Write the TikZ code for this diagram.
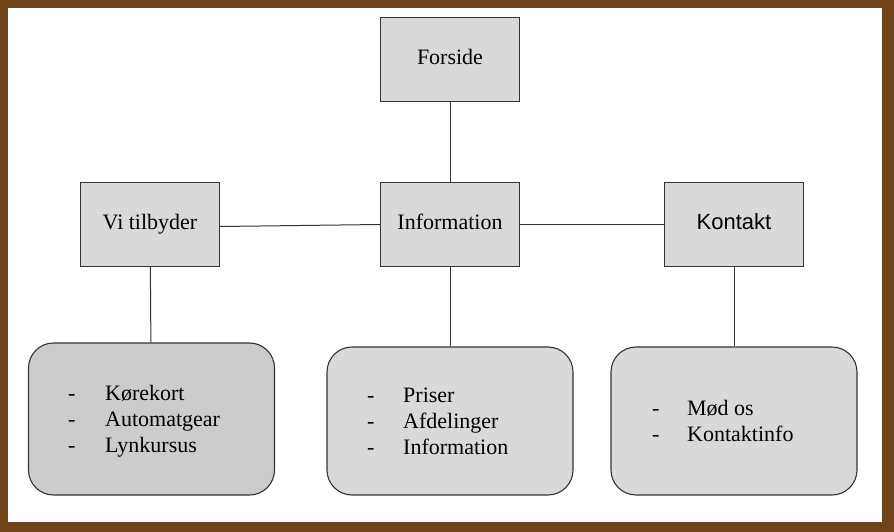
\documentclass[tikz,border=0pt]{standalone}
\usepackage{fontspec}
\setmainfont{Liberation Serif}
\newfontfamily\arialfont{Liberation Sans}
\definecolor{framebrown}{HTML}{6F4318}
\definecolor{boxgray}{HTML}{D9D9D9}
\definecolor{darkgray}{HTML}{CCCCCC}
\definecolor{edgegray}{HTML}{333333}
\begin{document}
\begin{tikzpicture}[x=1pt, y=-1pt,
  page/.style={inner sep=0pt, font=\fontsize{22}{26}\selectfont},
  box/.style={page, draw=edgegray, fill=boxgray, line width=1.1pt,
    minimum width=139pt, minimum height=84pt, text height=15pt, text depth=5pt},
  roundbox/.style={draw=edgegray, fill=boxgray, line width=1.1pt,
    rounded corners=25pt, minimum width=246pt, inner sep=0pt},
  items/.style={page, anchor=west},
  link/.style={draw=edgegray, line width=1pt}]
  % frame
  \fill[framebrown] (0,0) rectangle (894,532);
  \fill[white] (8,8) rectangle (882,522);

  % top level
  \node[box] (forside) at (450,59.5) {Forside};
  \node[box] (vi) at (150,224.5) {Vi tilbyder};
  \node[box] (info) at (450,224.5) {Information};
  \node[box, font=\arialfont\fontsize{22}{26}\selectfont] (kontakt) at (734,224.5) {Kontakt};

  % lists
  \node[roundbox, fill=darkgray, minimum height=152pt] (box1) at (151.5,419) {};
  \node[roundbox, minimum height=148pt] (box2) at (450,421) {};
  \node[roundbox, minimum height=148pt] (box3) at (734,421) {};

  \node[items] (list1) at (68,421) {\begin{tabular}{@{}p{37pt}@{}l@{}}
    - & Kørekort\\ - & Automatgear\\ - & Lynkursus\end{tabular}};
  \node[items] (list2) at (367,423) {\begin{tabular}{@{}p{36pt}@{}l@{}}
    - & Priser\\ - & Afdelinger\\ - & Information\end{tabular}};
  \node[items] (list3) at (652,423) {\begin{tabular}{@{}p{35pt}@{}l@{}}
    - & Mød os\\ - & Kontaktinfo\end{tabular}};

  \draw[link] (forside) -- (info);
  \draw[link] ([yshift=-2pt]vi.east) -- (info.west);
  \draw[link] (info) -- (kontakt);
  \draw[link] (vi) -- (box1);
  \draw[link] (info) -- (box2);
  \draw[link] (kontakt) -- (box3);
\end{tikzpicture}
\end{document}
